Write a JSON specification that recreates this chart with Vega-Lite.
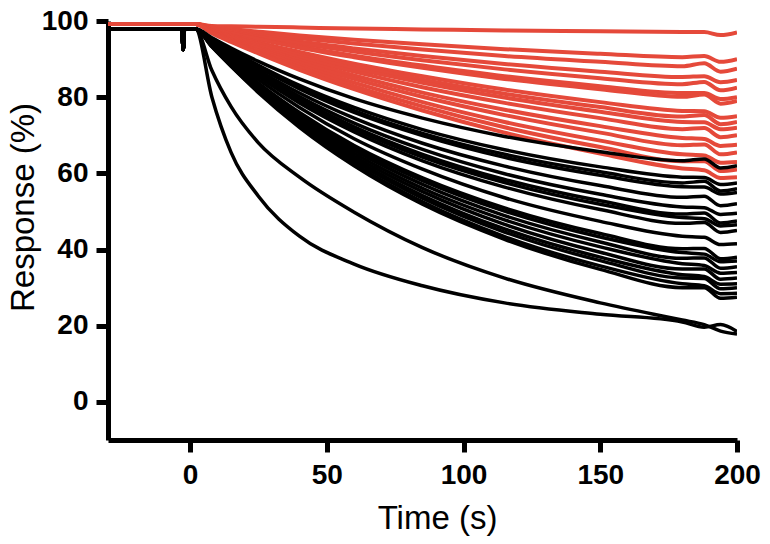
{
"$schema": "https://vega.github.io/schema/vega-lite/v6.json",
"width": 629, "height": 419,
"autosize": {"type": "none"},
"padding": {"left": 108, "top": 21, "right": 33, "bottom": 104},
"background": "white",
"config": {"view": {"stroke": null}, "font": "Liberation Sans"},
"data": {"values": [
{"t":-30,"R1":99.2,"R2":99.2,"R3":99.2,"R4":99.2,"R5":99.2,"R6":99.2,"R7":99.2,"R8":99.2,"R9":99.2,"R10":99.2,"R11":99.2,"R12":99.2,"R13":99.2,"R14":99.2,"R15":99.2,"R16":99.2,"B1":97.9,"B2":97.9,"B3":97.9,"B4":97.9,"B5":97.9,"B6":97.9,"B7":97.9,"B8":97.9,"B9":97.9,"B10":97.9,"B11":97.9,"B12":97.9,"B13":97.9,"B14":97.9,"B15":97.9,"B16":97.9,"B17":97.9,"B18":97.9,"B19":97.9,"F1":97.9,"F2":97.9},
{"t":-3,"R1":99.2,"R2":99.2,"R3":99.2,"R4":99.2,"R5":99.2,"R6":99.2,"R7":99.2,"R8":99.2,"R9":99.2,"R10":99.2,"R11":99.2,"R12":99.2,"R13":99.2,"R14":99.2,"R15":99.2,"R16":99.2,"B1":97.9,"B2":97.9,"B3":97.9,"B4":97.9,"B5":97.9,"B6":97.9,"B7":97.9,"B8":97.9,"B9":97.9,"B10":97.9,"B11":97.9,"B12":97.9,"B13":97.9,"B14":97.9,"B15":97.9,"B16":97.9,"B17":97.9,"B18":97.9,"B19":97.9,"F1":97.9,"F2":97.9},
{"t":-2.5,"R1":99.2,"R2":99.2,"R3":99.2,"R4":99.2,"R5":99.2,"R6":99.2,"R7":99.2,"R8":99.2,"R9":99.2,"R10":99.2,"R11":99.2,"R12":99.2,"R13":99.2,"R14":99.2,"R15":99.2,"R16":99.2,"B1":92.5,"B2":92.5,"B3":92.5,"B4":92.5,"B5":92.5,"B6":92.5,"B7":92.5,"B8":92.5,"B9":92.5,"B10":92.5,"B11":92.5,"B12":92.5,"B13":92.5,"B14":92.5,"B15":92.5,"B16":92.5,"B17":92.5,"B18":92.5,"B19":92.5,"F1":92.5,"F2":92.5},
{"t":-2,"R1":99.2,"R2":99.2,"R3":99.2,"R4":99.2,"R5":99.2,"R6":99.2,"R7":99.2,"R8":99.2,"R9":99.2,"R10":99.2,"R11":99.2,"R12":99.2,"R13":99.2,"R14":99.2,"R15":99.2,"R16":99.2,"B1":97.9,"B2":97.9,"B3":97.9,"B4":97.9,"B5":97.9,"B6":97.9,"B7":97.9,"B8":97.9,"B9":97.9,"B10":97.9,"B11":97.9,"B12":97.9,"B13":97.9,"B14":97.9,"B15":97.9,"B16":97.9,"B17":97.9,"B18":97.9,"B19":97.9,"F1":97.9,"F2":97.9},
{"t":2,"R1":99.2,"R2":99.2,"R3":99.2,"R4":99.2,"R5":99.2,"R6":99.2,"R7":99.2,"R8":99.2,"R9":99.2,"R10":99.2,"R11":99.2,"R12":99.2,"R13":99.2,"R14":99.2,"R15":99.2,"R16":99.2,"B1":97.9,"B2":97.9,"B3":97.9,"B4":97.9,"B5":97.9,"B6":97.9,"B7":97.9,"B8":97.9,"B9":97.9,"B10":97.9,"B11":97.9,"B12":97.9,"B13":97.9,"B14":97.9,"B15":97.9,"B16":97.9,"B17":97.9,"B18":97.9,"B19":97.9,"F1":97.9,"F2":97.9},
{"t":8,"R1":98.7,"R2":98.4,"R3":98.2,"R4":98.1,"R5":98.0,"R6":97.9,"R7":97.8,"R8":97.6,"R9":97.5,"R10":97.5,"R11":97.4,"R12":97.2,"R13":97.1,"R14":97.0,"R15":96.9,"R16":96.8,"B1":95.6,"B2":95.3,"B3":95.2,"B4":95.1,"B5":94.9,"B6":94.7,"B7":94.6,"B8":94.5,"B9":94.4,"B10":94.2,"B11":94.0,"B12":93.9,"B13":93.8,"B14":93.7,"B15":93.6,"B16":93.5,"B17":93.4,"B18":93.3,"B19":93.2,"F1":80,"F2":87},
{"t":15,"R1":98.6,"R2":97.9,"R3":97.6,"R4":97.3,"R5":97.1,"R6":96.8,"R7":96.7,"R8":96.3,"R9":96.1,"R10":95.9,"R11":95.7,"R12":95.5,"R13":95.2,"R14":95.0,"R15":94.8,"R16":94.5,"B1":92.9,"B2":92.3,"B3":92.1,"B4":91.9,"B5":91.5,"B6":91.2,"B7":90.9,"B8":90.7,"B9":90.5,"B10":90.0,"B11":89.5,"B12":89.4,"B13":89.2,"B14":89.0,"B15":88.8,"B16":88.6,"B17":88.4,"B18":88.2,"B19":88.1,"F1":65.5,"F2":77.5},
{"t":25,"R1":98.5,"R2":97.2,"R3":96.7,"R4":96.2,"R5":95.8,"R6":95.3,"R7":95.2,"R8":94.4,"R9":94.1,"R10":93.9,"R11":93.5,"R12":93.0,"R13":92.7,"R14":92.2,"R15":91.8,"R16":91.5,"B1":89.4,"B2":88.4,"B3":88.0,"B4":87.8,"B5":87.1,"B6":86.5,"B7":86.0,"B8":85.7,"B9":85.4,"B10":84.6,"B11":83.7,"B12":83.5,"B13":83.1,"B14":82.8,"B15":82.4,"B16":82.1,"B17":81.8,"B18":81.5,"B19":81.2,"F1":54,"F2":68},
{"t":40,"R1":98.3,"R2":96.2,"R3":95.5,"R4":94.6,"R5":94.1,"R6":93.3,"R7":93.0,"R8":91.9,"R9":91.4,"R10":91.0,"R11":90.4,"R12":89.7,"R13":89.1,"R14":88.4,"R15":87.8,"R16":87.2,"B1":84.8,"B2":83.1,"B3":82.6,"B4":82.2,"B5":81.1,"B6":80.2,"B7":79.5,"B8":79.1,"B9":78.5,"B10":77.3,"B11":76.0,"B12":75.6,"B13":75.1,"B14":74.5,"B15":74.0,"B16":73.4,"B17":73.0,"B18":72.5,"B19":72.1,"F1":43.5,"F2":59},
{"t":60,"R1":98.0,"R2":95.1,"R3":94.1,"R4":92.8,"R5":92.0,"R6":90.9,"R7":90.5,"R8":88.8,"R9":88.2,"R10":87.5,"R11":86.7,"R12":85.7,"R13":84.8,"R14":83.8,"R15":82.9,"R16":82.1,"B1":79.6,"B2":77.3,"B3":76.5,"B4":76.0,"B5":74.5,"B6":73.2,"B7":72.2,"B8":71.7,"B9":70.9,"B10":69.1,"B11":67.3,"B12":66.8,"B13":66.1,"B14":65.3,"B15":64.5,"B16":63.8,"B17":63.3,"B18":62.5,"B19":62.0,"F1":36.2,"F2":49.8},
{"t":85,"R1":97.8,"R2":93.9,"R3":92.5,"R4":90.8,"R5":89.7,"R6":88.3,"R7":87.7,"R8":85.5,"R9":84.6,"R10":83.8,"R11":82.6,"R12":81.2,"R13":80.1,"R14":78.7,"R15":77.6,"R16":76.5,"B1":74.5,"B2":71.5,"B3":70.5,"B4":69.9,"B5":67.9,"B6":66.3,"B7":65.0,"B8":64.3,"B9":63.3,"B10":61.1,"B11":58.8,"B12":58.1,"B13":57.1,"B14":56.1,"B15":55.2,"B16":54.2,"B17":53.5,"B18":52.5,"B19":51.9,"F1":30.5,"F2":40.5},
{"t":115,"R1":97.5,"R2":92.6,"R3":90.8,"R4":88.7,"R5":87.3,"R6":85.5,"R7":84.8,"R8":82.0,"R9":80.9,"R10":79.9,"R11":78.5,"R12":76.7,"R13":75.3,"R14":73.5,"R15":72.1,"R16":70.7,"B1":69.7,"B2":66.2,"B3":65.0,"B4":64.2,"B5":61.9,"B6":59.9,"B7":58.4,"B8":57.6,"B9":56.4,"B10":53.6,"B11":50.9,"B12":50.1,"B13":48.9,"B14":47.8,"B15":46.6,"B16":45.4,"B17":44.6,"B18":43.4,"B19":42.7,"F1":26,"F2":32.5},
{"t":150,"R1":97.3,"R2":91.4,"R3":89.3,"R4":86.7,"R5":85.0,"R6":82.9,"R7":82.1,"R8":78.7,"R9":77.4,"R10":76.2,"R11":74.5,"R12":72.4,"R13":70.7,"R14":68.6,"R15":66.9,"R16":65.2,"B1":65.7,"B2":61.7,"B3":60.4,"B4":59.5,"B5":56.8,"B6":54.5,"B7":52.8,"B8":51.9,"B9":50.5,"B10":47.4,"B11":44.2,"B12":43.3,"B13":42.0,"B14":40.7,"B15":39.3,"B16":38.0,"B17":37.1,"B18":35.7,"B19":34.8,"F1":23,"F2":26},
{"t":180,"R1":97.1,"R2":90.5,"R3":88.1,"R4":85.3,"R5":83.4,"R6":81.1,"R7":80.1,"R8":76.4,"R9":74.9,"R10":73.5,"R11":71.6,"R12":69.3,"R13":67.4,"R14":65.0,"R15":63.2,"R16":61.3,"B1":63.3,"B2":59.0,"B3":57.5,"B4":56.5,"B5":53.7,"B6":51.2,"B7":49.3,"B8":48.4,"B9":46.9,"B10":43.5,"B11":40.2,"B12":39.2,"B13":37.7,"B14":36.3,"B15":34.9,"B16":33.4,"B17":32.5,"B18":31.0,"B19":30.0,"F1":21,"F2":21.5},
{"t":188,"R1":97.1,"R2":90.8,"R3":88.9,"R4":85.5,"R5":84.0,"R6":81.1,"R7":80.7,"R8":76.3,"R9":75.3,"R10":73.4,"R11":71.9,"R12":69.0,"R13":67.6,"R14":64.7,"R15":63.2,"R16":60.8,"B1":63.8,"B2":58.9,"B3":57.9,"B4":56.4,"B5":54.0,"B6":51.0,"B7":49.6,"B8":48.1,"B9":47.1,"B10":43.2,"B11":40.3,"B12":38.8,"B13":37.8,"B14":35.8,"B15":34.9,"B16":32.9,"B17":32.4,"B18":30.5,"B19":30.0,"F1":19.6,"F2":20.3},
{"t":194,"R1":96.3,"R2":89.3,"R3":86.7,"R4":83.9,"R5":81.8,"R6":79.5,"R7":78.3,"R8":74.6,"R9":72.9,"R10":71.6,"R11":69.5,"R12":67.2,"R13":65.0,"R14":62.8,"R15":60.6,"R16":58.8,"B1":61.4,"B2":57.1,"B3":55.4,"B4":54.6,"B5":51.5,"B6":49.2,"B7":47.0,"B8":46.2,"B9":44.5,"B10":41.3,"B11":37.6,"B12":36.8,"B13":35.1,"B14":33.8,"B15":32.2,"B16":30.9,"B17":29.7,"B18":28.4,"B19":27.2,"F1":20.3,"F2":18.6},
{"t":200,"R1":97.0,"R2":90,"R3":87.5,"R4":84.5,"R5":82.5,"R6":80,"R7":79,"R8":75,"R9":73.5,"R10":72,"R11":70,"R12":67.5,"R13":65.5,"R14":63,"R15":61,"R16":59,"B1":62,"B2":57.5,"B3":56,"B4":55,"B5":52,"B6":49.5,"B7":47.5,"B8":46.5,"B9":45,"B10":41.5,"B11":38,"B12":37,"B13":35.5,"B14":34,"B15":32.5,"B16":31,"B17":30,"B18":28.5,"B19":27.5,"F1":18.5,"F2":17.8}
]},
"encoding": {
  "x": {"field": "t", "type": "quantitative",
    "scale": {"domain": [-30, 200], "nice": false, "zero": false},
    "axis": {"title": "Time (s)", "values": [0, 50, 100, 150, 200], "grid": false,
      "domainColor": "black", "domainWidth": 5, "tickColor": "black", "tickWidth": 5, "tickSize": 12,
      "labelFont": "Liberation Sans", "labelFontSize": 28, "labelFontWeight": "bold", "labelColor": "black",
      "labelPadding": 9, "labelFlush": false, "labelOverlap": false,
      "titleFont": "Liberation Sans", "titleFontSize": 33, "titleFontWeight": "normal", "titleColor": "black",
      "titleX": 329, "titleY": 88, "titleBaseline": "alphabetic", "titleAlign": "center"}},
  "y": {"field": "value", "type": "quantitative",
    "scale": {"domain": [-10, 100], "nice": false, "zero": false},
    "axis": {"title": "Response (%)", "values": [0, 20, 40, 60, 80, 100], "grid": false,
      "domainColor": "black", "domainWidth": 5, "tickColor": "black", "tickWidth": 5, "tickSize": 12,
      "labelFont": "Liberation Sans", "labelFontSize": 28, "labelFontWeight": "bold", "labelColor": "black",
      "labelPadding": 8, "labelFlush": false, "labelOverlap": false,
      "titleFont": "Liberation Sans", "titleFontSize": 33, "titleFontWeight": "normal", "titleColor": "black",
      "titleX": -75, "titleY": 186, "titleAngle": 270, "titleBaseline": "alphabetic", "titleAlign": "center"}}
},
"layer": [
  {"transform": [{"fold": ["R1","R2","R3","R4","R5","R6","R7","R8","R9","R10","R11","R12","R13","R14","R15","R16"]}],
   "mark": {"type": "line", "color": "#E5493A", "strokeWidth": 4, "interpolate": "monotone", "clip": true},
   "encoding": {"detail": {"field": "key", "type": "nominal"}}},
  {"transform": [{"fold": ["B1","B2","B3","B4","B5","B6","B7","B8","B9","B10","B11","B12","B13","B14","B15","B16","B17","B18","B19","F1","F2"]}],
   "mark": {"type": "line", "color": "#000000", "strokeWidth": 3.5, "interpolate": "monotone", "clip": true},
   "encoding": {"detail": {"field": "key", "type": "nominal"}}}
]
}
